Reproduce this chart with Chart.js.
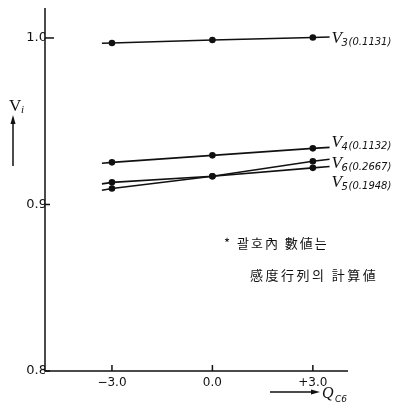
<!DOCTYPE html>
<html>
<head>
<meta charset="utf-8">
<script src="https://cdn.jsdelivr.net/npm/chart.js@4"></script>
<style>
  html, body { margin: 0; padding: 0; background: #fff; }
  #wrap { width: 395px; height: 406px; position: relative; }
</style>
</head>
<body>
<div id="wrap"><canvas id="myChart"></canvas></div>
<script>
// x positions (Q_C6); the first and last are where the drawn lines stop
const qc6 = [-3.3, -3.0, 0.0, 3.0, 3.5];
const v3 = [0.9968, 0.997, 0.9988, 1.0003, 1.0006];
const v4 = [0.9248, 0.9253, 0.9295, 0.9337, 0.9343];
const v6 = [0.9124, 0.9133, 0.917, 0.926, 0.9272];
const v5 = [0.9086, 0.9096, 0.917, 0.922, 0.9228];
const seriesNames = ['3', '4', '6', '5'];
const sensValues = ['(0.1131)', '(0.1132)', '(0.2667)', '(0.1948)'];
const labelDy = [0, -6, 3, 14];
const xTicks = [-3, 0, 3];
const xTickLabels = ['\u22123.0', '0.0', '+3.0'];
const yTicks = [0.8, 0.9, 1.0];
const noteLines = ['* 괄호內 數値는', '感度行列의 計算値'];

const ink = '#111';
const pointSizes = [0, 2.5, 2.5, 2.5, 0];

function mkSet(vals) {
  return {
    data: qc6.map((x, i) => ({ x: x, y: vals[i] })),
    borderColor: ink,
    backgroundColor: ink,
    borderWidth: 1.6,
    pointRadius: pointSizes,
    pointHoverRadius: pointSizes,
    tension: 0
  };
}

const decor = {
  id: 'decor',
  afterDraw(chart) {
    const c = chart.ctx;
    const xs = chart.scales.x, ys = chart.scales.y;
    const a = chart.chartArea;
    c.save();
    c.strokeStyle = ink;
    c.fillStyle = ink;
    c.lineWidth = 1.5;
    // axes
    c.beginPath();
    c.moveTo(a.left, a.top);
    c.lineTo(a.left, a.bottom);
    c.lineTo(a.right, a.bottom);
    c.stroke();
    // inward tick marks
    yTicks.forEach((v, i) => {
      const y = ys.getPixelForValue(v);
      c.beginPath();
      c.moveTo(a.left, y);
      c.lineTo(a.left + (i === 2 ? 9 : 5), y);
      c.stroke();
    });
    xTicks.forEach(v => {
      const x = xs.getPixelForValue(v);
      c.beginPath();
      c.moveTo(x, a.bottom);
      c.lineTo(x, a.bottom - 6);
      c.stroke();
    });
    // series labels
    chart.data.datasets.forEach((ds, i) => {
      const last = ds.data[ds.data.length - 1];
      const x = xs.getPixelForValue(last.x) + 2;
      const y = ys.getPixelForValue(last.y) + labelDy[i];
      c.textBaseline = 'alphabetic';
      c.textAlign = 'left';
      c.font = 'italic 17px "Liberation Serif"';
      c.fillText('V', x, y + 6);
      c.font = 'italic 10px "DejaVu Sans"';
      c.fillText(seriesNames[i], x + 10, y + 9);
      c.fillText(sensValues[i], x + 17, y + 8);
    });
    // y axis title with arrow
    c.font = '17px "Liberation Serif"';
    c.fillText('V', 9, 111);
    c.font = 'italic 11px "Liberation Serif"';
    c.fillText('i', 21, 113);
    c.beginPath();
    c.moveTo(13, 166);
    c.lineTo(13, 118);
    c.stroke();
    c.beginPath();
    c.moveTo(13, 115);
    c.lineTo(10.5, 124);
    c.lineTo(15.5, 124);
    c.closePath();
    c.fill();
    // x axis title with arrow
    c.beginPath();
    c.moveTo(270, 392);
    c.lineTo(316, 392);
    c.stroke();
    c.beginPath();
    c.moveTo(320, 392);
    c.lineTo(311, 389.5);
    c.lineTo(311, 394.5);
    c.closePath();
    c.fill();
    c.font = 'italic 16px "Liberation Serif"';
    c.fillText('Q', 322, 398);
    c.font = 'italic 9px "DejaVu Sans"';
    c.fillText('C6', 335, 402);
    // note
    c.font = '13px "Noto Sans CJK KR"';
    c.letterSpacing = '2px';
    c.fillText(noteLines[0], 224, 248);
    c.letterSpacing = '2.5px';
    c.fillText(noteLines[1], 250, 280);
    c.restore();
  }
};

const ctx = document.getElementById('myChart');
const myChart = new Chart(ctx, {
  type: 'line',
  data: {
    datasets: [mkSet(v3), mkSet(v4), mkSet(v6), mkSet(v5)]
  },
  options: {
    responsive: true,
    maintainAspectRatio: false,
    animation: false,
    events: [],
    layout: { padding: { top: 8, right: 47, left: 0, bottom: 0 } },
    plugins: { legend: { display: false }, tooltip: { enabled: false } },
    scales: {
      x: {
        type: 'linear',
        min: -5,
        max: 4.05,
        afterBuildTicks: s => { s.ticks = xTicks.map(v => ({ value: v })); },
        afterFit: s => { s.height = 35; },
        grid: { display: false, drawTicks: false, tickLength: 0 },
        border: { display: false },
        ticks: {
          color: ink,
          font: { family: 'DejaVu Sans', size: 12 },
          padding: 5,
          maxRotation: 0,
          callback: (v) => xTickLabels[xTicks.indexOf(v)]
        }
      },
      y: {
        min: 0.8,
        max: 1.018,
        afterBuildTicks: s => { s.ticks = yTicks.map(v => ({ value: v })); },
        afterFit: s => { s.width = 45; },
        grid: { display: false, drawTicks: false, tickLength: 0 },
        border: { display: false },
        ticks: {
          color: ink,
          font: { family: 'DejaVu Sans', size: 13 },
          padding: -2,
          callback: v => v.toFixed(1)
        }
      }
    }
  },
  plugins: [decor]
});
</script>
</body>
</html>
